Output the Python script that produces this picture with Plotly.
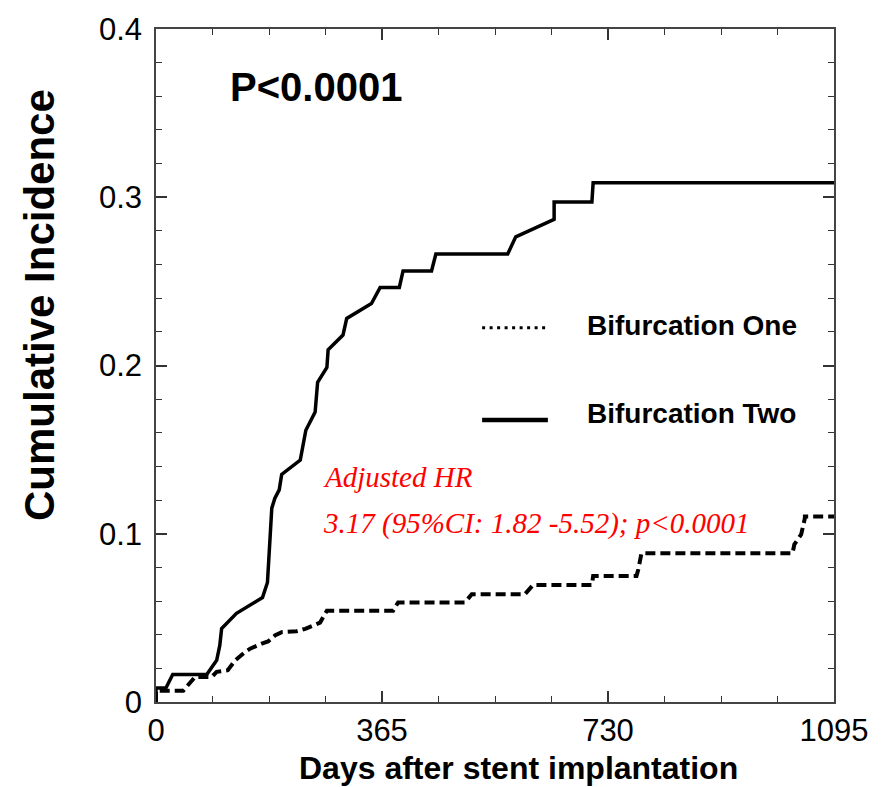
import plotly.graph_objects as go

# Cumulative incidence curves (days after stent implantation vs. incidence)
two_days = [0, 0, 16, 27, 82, 98, 103, 106, 130, 172, 180, 183, 187, 192, 199, 203,
            233, 242, 257, 261, 276, 278, 302, 308, 348, 362, 393, 399, 445, 452,
            568, 581, 643, 643, 704, 706, 1095]
two_inc = [0, 0.0083, 0.0083, 0.0163, 0.0163, 0.0248, 0.0336, 0.0437, 0.0527, 0.0621,
           0.071, 0.0877, 0.1152, 0.1211, 0.1261, 0.1353, 0.1438, 0.1615, 0.1723, 0.19,
           0.1988, 0.2093, 0.2181, 0.228, 0.2368, 0.2464, 0.2464, 0.2562, 0.2562, 0.2663,
           0.2663, 0.2765, 0.2869, 0.2972, 0.2972, 0.3086, 0.3086]

one_days = [0, 0, 44, 55, 63, 90, 98, 116, 128, 144, 152, 173, 181, 192, 203, 227, 241,
            265, 276, 383, 391, 499, 510, 596, 604, 609, 704, 706, 776, 779, 784, 1028,
            1031, 1042, 1048, 1048, 1095]
one_inc = [0, 0.0067, 0.0067, 0.0112, 0.0149, 0.0149, 0.0179, 0.0189, 0.0248, 0.0297,
           0.0317, 0.035, 0.036, 0.0395, 0.0415, 0.0421, 0.0435, 0.0472, 0.0543, 0.0543,
           0.0592, 0.0592, 0.0641, 0.0641, 0.068, 0.0696, 0.0696, 0.0749, 0.0749, 0.0789,
           0.0884, 0.0884, 0.0937, 0.0996, 0.1093, 0.1103, 0.1103]

x_ticks = [0, 365, 730, 1095]
x_tick_labels = ["0", "365", "730", "1095"]
y_ticks = [0, 0.1, 0.2, 0.3, 0.4]

series_names = ["Bifurcation One", "Bifurcation Two"]
x_title = "Days after stent implantation"
y_title = "Cumulative Incidence"
p_text = "P<0.0001"
hr_lines = ["Adjusted HR", "3.17 (95%CI: 1.82 -5.52); p<0.0001"]

fig = go.Figure()
fig.add_trace(go.Scatter(x=one_days, y=one_inc, mode="lines", name=series_names[0],
                         line=dict(color="black", width=4, dash="10px,5px"),
                         showlegend=False))
fig.add_trace(go.Scatter(x=two_days, y=two_inc, mode="lines", name=series_names[1],
                         line=dict(color="black", width=3.5),
                         showlegend=False))

sans = "Liberation Sans, Arial, sans-serif"
axis_font = dict(family=sans, size=31, color="black")

fig.update_xaxes(range=[0, 1095], tickvals=x_ticks, ticktext=x_tick_labels,
                 ticks="inside", ticklen=11, tickwidth=1.5, tickcolor="#333",
                 minor=dict(dtick=91.25, tick0=0, ticks="inside", ticklen=6,
                            tickwidth=1.2, tickcolor="#333"),
                 showline=True, linecolor="#444", linewidth=1.5, mirror="ticks",
                 showgrid=False, zeroline=False, tickfont=axis_font)
fig.update_yaxes(range=[0, 0.4], tickvals=y_ticks,
                 ticks="inside", ticklen=11, tickwidth=1.5, tickcolor="#333",
                 minor=dict(dtick=0.02, tick0=0, ticks="inside", ticklen=6,
                            tickwidth=1.2, tickcolor="#333"),
                 showline=True, linecolor="#444", linewidth=1.5, mirror="ticks",
                 showgrid=False, zeroline=False, tickfont=axis_font,
                 ticklabelstandoff=6)

bold_font = dict(family=sans, color="black")
red_font = dict(family="Liberation Serif, Times New Roman, serif", size=29,
                color="red", style="italic")

annotations = [
    # axis titles
    dict(text="<b>" + x_title + "</b>", x=0.535, y=-0.098, xanchor="center",
         yanchor="middle", font=dict(size=32, **bold_font)),
    dict(text="<b>" + y_title + "</b>", x=-0.171, y=0.590, xanchor="center",
         yanchor="middle", textangle=-90, font=dict(size=42, **bold_font)),
    dict(text="<b>" + p_text + "</b>", x=0.106, y=0.914, xanchor="left", yanchor="middle",
         font=dict(size=40, **bold_font)),
    dict(text="<b>" + series_names[0] + "</b>", x=0.633, y=0.560, xanchor="left",
         yanchor="middle", font=dict(size=28, **bold_font)),
    dict(text="<b>" + series_names[1] + "</b>", x=0.633, y=0.429, xanchor="left",
         yanchor="middle", font=dict(size=28, **bold_font)),
    dict(text=hr_lines[0], x=0.243, y=0.335, xanchor="left", yanchor="middle", font=red_font),
    dict(text=hr_lines[1], x=0.243, y=0.265, xanchor="left", yanchor="middle", font=red_font),
]
for a in annotations:
    a.update(xref="paper", yref="paper", showarrow=False)

# legend keys
shapes = [
    dict(type="line", xref="paper", yref="paper", x0=0.481, x1=0.578, y0=0.556, y1=0.556,
         line=dict(color="black", width=3, dash="3px,4.5px")),
    dict(type="line", xref="paper", yref="paper", x0=0.481, x1=0.578, y0=0.419, y1=0.419,
         line=dict(color="black", width=4.5)),
]

fig.update_layout(width=889, height=787, margin=dict(l=156, r=55, t=24, b=85),
                  paper_bgcolor="white", plot_bgcolor="white",
                  annotations=annotations, shapes=shapes)

fig.write_html("out.html")
